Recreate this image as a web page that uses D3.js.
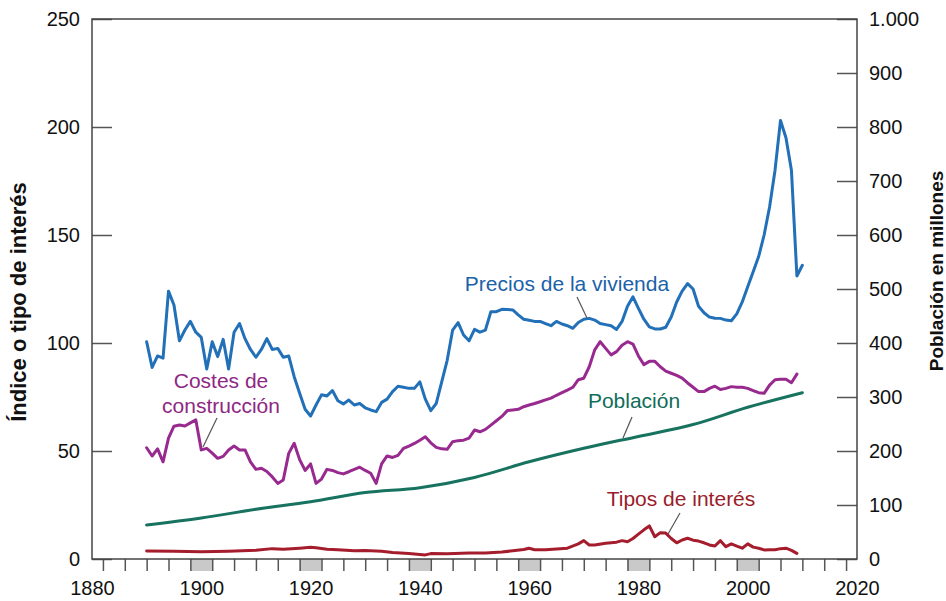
<!DOCTYPE html>
<meta charset="utf-8">
<html>
<head>
    <title>Precios de la vivienda</title>
    <style>
        body { margin: 0; background: #fff; }
        text { font-family: "Liberation Sans", Arial, sans-serif; }
    </style>
</head>
<body>
<script src="https://cdnjs.cloudflare.com/ajax/libs/d3/7.8.5/d3.min.js"></script>
<script>
    // datos
    var preciosAnios = d3.range(1890, 2011);
    var precios = [
        100.6, 88.7, 94, 93, 124, 117.6, 101, 106, 110, 105,
        102.6, 88, 100.6, 93.7, 101.7, 88, 105, 109, 102, 97,
        93.4, 97, 102, 97, 97.5, 93.4, 94, 84.4, 76.7, 69.3,
        66.2, 71.3, 76, 75.5, 78, 73.3, 71.8, 73.6, 71.3, 72,
        70, 69, 68.2, 72.5, 74, 77.5, 80, 79.5, 79, 79,
        82, 74, 68.7, 72, 82, 92, 106, 109.4, 103.7, 101,
        106.3, 105, 106, 114.5, 114.5, 115.6, 115.5, 115.3, 113, 111,
        110.5, 110, 110, 109, 108, 110, 108.8, 108, 106.8, 109.5,
        111, 111.4, 110.6, 109, 108.5, 108, 106.3, 110, 117, 121.4,
        116, 111, 107.5, 106.5, 106.5, 107.3, 112, 119, 124, 127.5,
        125, 117, 114, 112, 111.5, 111.4, 110.6, 110.3, 113.5, 119,
        126, 133, 140, 150, 163, 180, 203, 195, 180, 131,
        136
    ];

    var costesAnios = d3.range(1890, 2010);
    var costes = [
        51.5, 47.7, 51, 45, 56, 61.5, 62, 61.6, 63, 64.4,
        50.5, 51.2, 49, 46.6, 47.5, 50.5, 52.3, 50.5, 50.5, 45,
        41.5, 42, 40.5, 38, 35, 36.6, 48.9, 53.6, 46, 41,
        44, 35, 37, 41.5, 41, 40, 39.4, 40.4, 41.5, 42.5,
        41, 39.7, 35, 44, 47.7, 47, 48, 51.2, 52.3, 53.5,
        55, 56.6, 53.8, 51.7, 51, 50.8, 54.3, 54.8, 55, 56,
        59.7, 58.9, 60, 62, 64, 66, 68.7, 69, 69.3, 70.5,
        71.3, 72, 72.8, 73.7, 74.5, 75.8, 77, 78.2, 79.5, 83,
        83.7, 89, 96.8, 100.6, 97.5, 94.5, 96, 99, 100.6, 99.5,
        94, 90, 91.5, 91.5, 89, 87, 86, 85, 83.7, 81.5,
        79.5, 77.5, 77.5, 79, 80, 78.5, 79, 79.8, 79.5, 79.5,
        79, 78, 77, 76.7, 80.5, 83, 83.2, 83.2, 81.6, 85.6
    ];

    var poblacionAnios = [1890, 1900, 1910, 1920, 1930, 1940, 1950, 1960, 1970, 1980, 1990, 2000, 2010];
    var poblacion = [63, 76, 92, 106, 123, 132, 151, 180, 205, 227, 249, 281, 308];

    var tiposAnios = [1890, 1895, 1900, 1905, 1910, 1913, 1915, 1918, 1920, 1921, 1923, 1925, 1928, 1930,
        1933, 1935, 1938, 1941, 1942, 1945, 1949, 1952, 1955, 1957, 1959, 1960, 1961, 1963, 1965, 1967,
        1969, 1970, 1971, 1972, 1974, 1976, 1977, 1978, 1979, 1980, 1981, 1982, 1983, 1984, 1985, 1986,
        1987, 1988, 1989, 1990, 1991, 1992, 1993, 1994, 1995, 1996, 1997, 1998, 1999, 2000, 2001, 2002,
        2003, 2004, 2005, 2006, 2007, 2008, 2009];
    var tipos = [3.7, 3.6, 3.3, 3.6, 4, 4.8, 4.5, 5, 5.4, 5.2, 4.5, 4.3, 3.8, 3.9,
        3.6, 3, 2.5, 1.9, 2.5, 2.4, 2.8, 2.8, 3.2, 3.8, 4.4, 5, 4.3, 4.3, 4.6, 5,
        7, 8.5, 6.5, 6.5, 7.3, 7.8, 8.5, 8, 9.5, 11.5, 13.5, 15.3, 10.3, 12.2, 12, 9.5,
        7.5, 8.8, 9.6, 8.7, 8.3, 7.5, 6.5, 6, 8.5, 5.7, 7, 6, 5, 7, 5.5, 5,
        4.2, 4.3, 4.3, 4.8, 5, 4, 2.6];

    var ticksIzq = [0, 50, 100, 150, 200, 250];
    var ticksDer = [0, 100, 200, 300, 400, 500, 600, 700, 800, 900, 1000];
    var aniosEtiqueta = [1880, 1900, 1920, 1940, 1960, 1980, 2000, 2020];
    var bandas = [1900, 1920, 1940, 1960, 1980, 2000];

    var W = 946, H = 601;
    var mIzq = 92, mDer = 857, mSup = 19, mInf = 559;

    var svg = d3.select("body").append("svg")
        .attr("width", W)
        .attr("height", H);

    var x = d3.scaleLinear().domain([1880, 2020]).range([mIzq, mDer]);
    var yL = d3.scaleLinear().domain([0, 250]).range([mInf, mSup]);
    var yR = d3.scaleLinear().domain([0, 1000]).range([mInf, mSup]);

    var es = d3.formatLocale({decimal: ",", thousands: ".", grouping: [3], currency: ["", "€"]});

    // bandas grises en el eje x
    svg.selectAll("rect.banda")
        .data(bandas)
        .enter()
        .append("rect")
        .attr("class", "banda")
        .attr("x", d => x(d - 2))
        .attr("width", d => x(d + 2) - x(d - 2))
        .attr("y", mInf)
        .attr("height", 12)
        .attr("fill", "#c9c9c9");

    // ticks menores (cada 4 años)
    svg.append("g")
        .attr("transform", "translate(0," + mInf + ")")
        .call(d3.axisBottom(x).tickValues(d3.range(1882, 2019, 4)).tickSize(12).tickFormat(""))
        .call(g => g.select(".domain").remove())
        .call(g => g.selectAll("line").attr("stroke", "#555").attr("stroke-width", 1.5));

    svg.append("g")
        .attr("transform", "translate(0," + mInf + ")")
        .call(d3.axisBottom(x).tickValues(aniosEtiqueta).tickSize(0).tickPadding(22).tickFormat(d3.format("d")))
        .call(g => g.select(".domain").remove())
        .call(g => g.selectAll("text").attr("font-size", 20).attr("fill", "#111")
            .attr("font-family", "Liberation Sans, Arial, sans-serif"));

    // eje izquierdo
    svg.append("g")
        .attr("transform", "translate(" + mIzq + ",0)")
        .call(d3.axisLeft(yL).tickValues(ticksIzq).tickSize(-20).tickPadding(12))
        .call(g => g.select(".domain").remove())
        .call(g => g.selectAll("line").attr("stroke", "#555").attr("stroke-width", 1.5))
        .call(g => g.selectAll("text").attr("font-size", 20).attr("fill", "#111")
            .attr("font-family", "Liberation Sans, Arial, sans-serif"));

    // eje derecho
    svg.append("g")
        .attr("transform", "translate(" + mDer + ",0)")
        .call(d3.axisRight(yR).tickValues(ticksDer).tickSize(-20).tickPadding(12).tickFormat(es.format(",d")))
        .call(g => g.select(".domain").remove())
        .call(g => g.selectAll("line").attr("stroke", "#555").attr("stroke-width", 1.5))
        .call(g => g.selectAll("text").attr("font-size", 20).attr("fill", "#111")
            .attr("font-family", "Liberation Sans, Arial, sans-serif"));

    // marco
    svg.append("rect")
        .attr("x", mIzq)
        .attr("y", mSup)
        .attr("width", mDer - mIzq)
        .attr("height", mInf - mSup)
        .attr("fill", "none")
        .attr("stroke", "#444")
        .attr("stroke-width", 1.5);

    // títulos de los ejes
    svg.append("text")
        .attr("transform", "translate(26," + 302 + ") rotate(-90)")
        .attr("text-anchor", "middle")
        .attr("font-size", 22)
        .attr("font-weight", "bold")
        .attr("fill", "#111")
        .text("Índice o tipo de interés");

    svg.append("text")
        .attr("transform", "translate(943," + 271 + ") rotate(-90)")
        .attr("text-anchor", "middle")
        .attr("font-size", 19)
        .attr("font-weight", "bold")
        .attr("fill", "#111")
        .text("Población en millones");

    // series
    function serie(anios, valores, escala, color, curva) {
        var pts = anios.map((a, i) => [a, valores[i]]);
        var linea = d3.line()
            .x(d => x(d[0]))
            .y(d => escala(d[1]))
            .curve(curva || d3.curveLinear);
        svg.append("path")
            .datum(pts)
            .attr("d", linea)
            .attr("fill", "none")
            .attr("stroke", color)
            .attr("stroke-width", 3)
            .attr("stroke-linejoin", "round")
            .attr("stroke-linecap", "round");
    }

    serie(poblacionAnios, poblacion, yR, "#17735f", d3.curveMonotoneX);
    serie(tiposAnios, tipos, yL, "#a51d2d");
    serie(costesAnios, costes, yL, "#982a8f");
    serie(preciosAnios, precios, yL, "#2270b8");

    // etiquetas
    function etiqueta(lineas, cx, y0, color, l) {
        lineas.forEach((t, i) => {
            svg.append("text")
                .attr("x", cx)
                .attr("y", y0 + i * 25)
                .attr("text-anchor", "middle")
                .attr("font-size", 21)
                .attr("fill", color)
                .text(t);
        });
        svg.append("line")
            .attr("x1", l[0]).attr("y1", l[1])
            .attr("x2", l[2]).attr("y2", l[3])
            .attr("stroke", "#555")
            .attr("stroke-width", 1.2);
    }

    etiqueta(["Precios de la vivienda"], 567, 291, "#1a62a8", [577, 297, 587, 318]);
    etiqueta(["Costes de", "construcción"], 221, 388, "#8e2883", [217, 418, 203, 447]);
    etiqueta(["Población"], 634, 408, "#106d59", [632, 417, 623, 438]);
    etiqueta(["Tipos de interés"], 681, 506, "#9a1d2b", [680, 513, 668, 534]);
</script>
</body>
</html>
